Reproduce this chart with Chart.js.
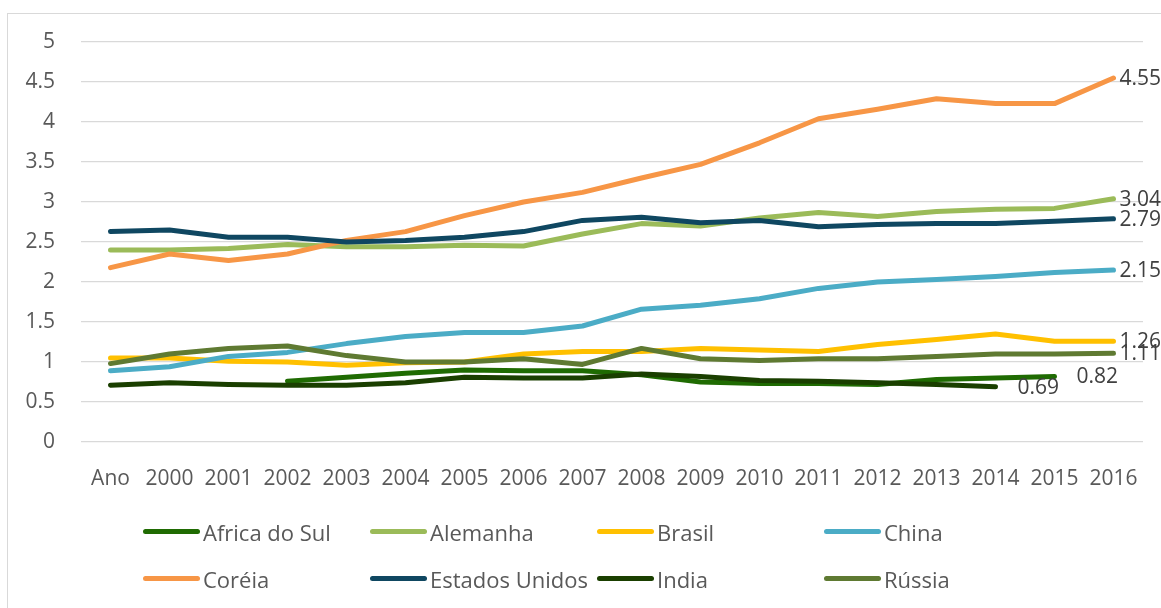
<!DOCTYPE html>
<html>
<head>
<meta charset="utf-8">
<script src="https://cdn.jsdelivr.net/npm/chart.js"></script>
<style>
	body { margin: 0; background: #fff; overflow: hidden; font-family: "Open Sans", sans-serif; }
	#marco { position: absolute; left: 7px; top: 13px; width: 1200px; height: 700px; border: 1px solid #d9d9d9; }
	#grafica { position: absolute; left: 0; top: 0; }
	#leyenda { position: absolute; left: 143px; top: 508px; display: grid; grid-template-columns: 227px 227px 227px 227px; grid-auto-rows: 47px; }
	.item { display: flex; align-items: center; font-size: 22px; color: #595959; white-space: nowrap; }
	.item span.linea { display: inline-block; width: 57px; height: 5px; border-radius: 3px; margin-right: 3px; }
</style>
</head>
<body>
<div id="marco"></div>
<canvas id="grafica" width="1161" height="608"></canvas>
<div id="leyenda"></div>
<script>
const labels = ['Ano', '2000', '2001', '2002', '2003', '2004', '2005', '2006', '2007', '2008', '2009', '2010', '2011', '2012', '2013', '2014', '2015', '2016']

const africaDoSul = [null, null, null, 0.76, 0.81, 0.86, 0.90, 0.89, 0.89, 0.84, 0.75, 0.73, 0.73, 0.72, 0.78, 0.80, 0.82, null]
const alemanha = [2.40, 2.40, 2.42, 2.47, 2.44, 2.44, 2.46, 2.45, 2.60, 2.73, 2.70, 2.80, 2.87, 2.82, 2.88, 2.91, 2.92, 3.04]
const brasil = [1.05, 1.05, 1.01, 1.00, 0.96, 0.99, 1.00, 1.10, 1.13, 1.13, 1.17, 1.15, 1.13, 1.22, 1.28, 1.35, 1.26, 1.26]
const china = [0.89, 0.94, 1.07, 1.12, 1.23, 1.32, 1.37, 1.37, 1.45, 1.66, 1.71, 1.79, 1.92, 2.00, 2.03, 2.07, 2.12, 2.15]
const coreia = [2.18, 2.35, 2.27, 2.35, 2.52, 2.63, 2.83, 3.00, 3.12, 3.30, 3.47, 3.74, 4.04, 4.16, 4.29, 4.23, 4.23, 4.55]
const estadosUnidos = [2.63, 2.65, 2.56, 2.56, 2.50, 2.52, 2.56, 2.63, 2.77, 2.81, 2.74, 2.77, 2.69, 2.72, 2.73, 2.73, 2.76, 2.79]
const india = [0.71, 0.74, 0.72, 0.71, 0.71, 0.74, 0.81, 0.80, 0.80, 0.85, 0.82, 0.77, 0.76, 0.74, 0.72, 0.69, null, null]
const russia = [0.98, 1.10, 1.17, 1.20, 1.08, 1.00, 1.00, 1.04, 0.97, 1.17, 1.04, 1.02, 1.04, 1.04, 1.07, 1.10, 1.10, 1.11]

const series = ['Africa do Sul', 'Alemanha', 'Brasil', 'China', 'Coréia', 'Estados Unidos', 'India', 'Rússia']
const valores = [africaDoSul, alemanha, brasil, china, coreia, estadosUnidos, india, russia]
const colores = ['#1f6b02', '#9bbb59', '#ffc000', '#4bacc6', '#f79646', '#0f4761', '#1a3f00', '#5f7a32']

const graph = document.querySelector("#grafica");

// etiquetas con el ultimo valor de cada serie
const rotulos = {
	id: 'rotulos',
	afterDatasetsDraw(chart) {
		const ctx = chart.ctx;
		ctx.save();
		ctx.font = '21px "Open Sans"';
		ctx.fillStyle = '#404040';
		ctx.textBaseline = 'middle';
		ctx.textAlign = 'left';
		chart.data.datasets.forEach((ds, i) => {
			let k = ds.data.length - 1;
			while (k >= 0 && ds.data[k] == null) k--;
			const p = chart.getDatasetMeta(i).data[k];
			const dx = k === ds.data.length - 1 ? 6 : 22;
			ctx.fillText(ds.data[k].toFixed(2), p.x + dx, p.y + 1);
		});
		ctx.restore();
	}
};

const data = {
	labels: labels,
	datasets: series.map((nombre, i) => ({
		label: nombre,
		data: valores[i],
		borderColor: colores[i],
		backgroundColor: colores[i],
		borderWidth: 5,
		borderCapStyle: 'round',
		borderJoinStyle: 'round',
		pointRadius: 0,
		tension: 0,
		order: series.length - i
	}))
};

const config = {
	type: 'line',
	data: data,
	plugins: [rotulos],
	options: {
		responsive: false,
		animation: false,
		layout: { padding: { top: 42, right: 18, left: 0, bottom: 116 } },
		plugins: {
			legend: { display: false },
			tooltip: { enabled: false }
		},
		scales: {
			x: {
				offset: true,
				grid: { display: false },
				border: { display: false },
				afterFit: s => { s.height = 50 },
				ticks: { color: '#595959', font: { family: 'Open Sans', size: 21 }, padding: 16, maxRotation: 0, autoSkip: false }
			},
			y: {
				min: 0,
				max: 5,
				grid: { color: '#d9d9d9', lineWidth: 1.3, drawTicks: false },
				border: { display: false },
				afterFit: s => { s.width = 81 },
				ticks: {
					stepSize: 0.5,
					color: '#595959',
					font: { family: 'Open Sans', size: 21 },
					padding: 26,
					callback: v => String(v)
				}
			}
		}
	}
};
new Chart(graph, config);

// leyenda en cuadricula como en el original
const leyenda = document.getElementById('leyenda');
series.forEach((nombre, i) => {
	const item = document.createElement('div');
	item.className = 'item';
	item.innerHTML = '<span class="linea" style="background:' + colores[i] + '"></span>' + nombre;
	leyenda.appendChild(item);
});
</script>
</body>
</html>
